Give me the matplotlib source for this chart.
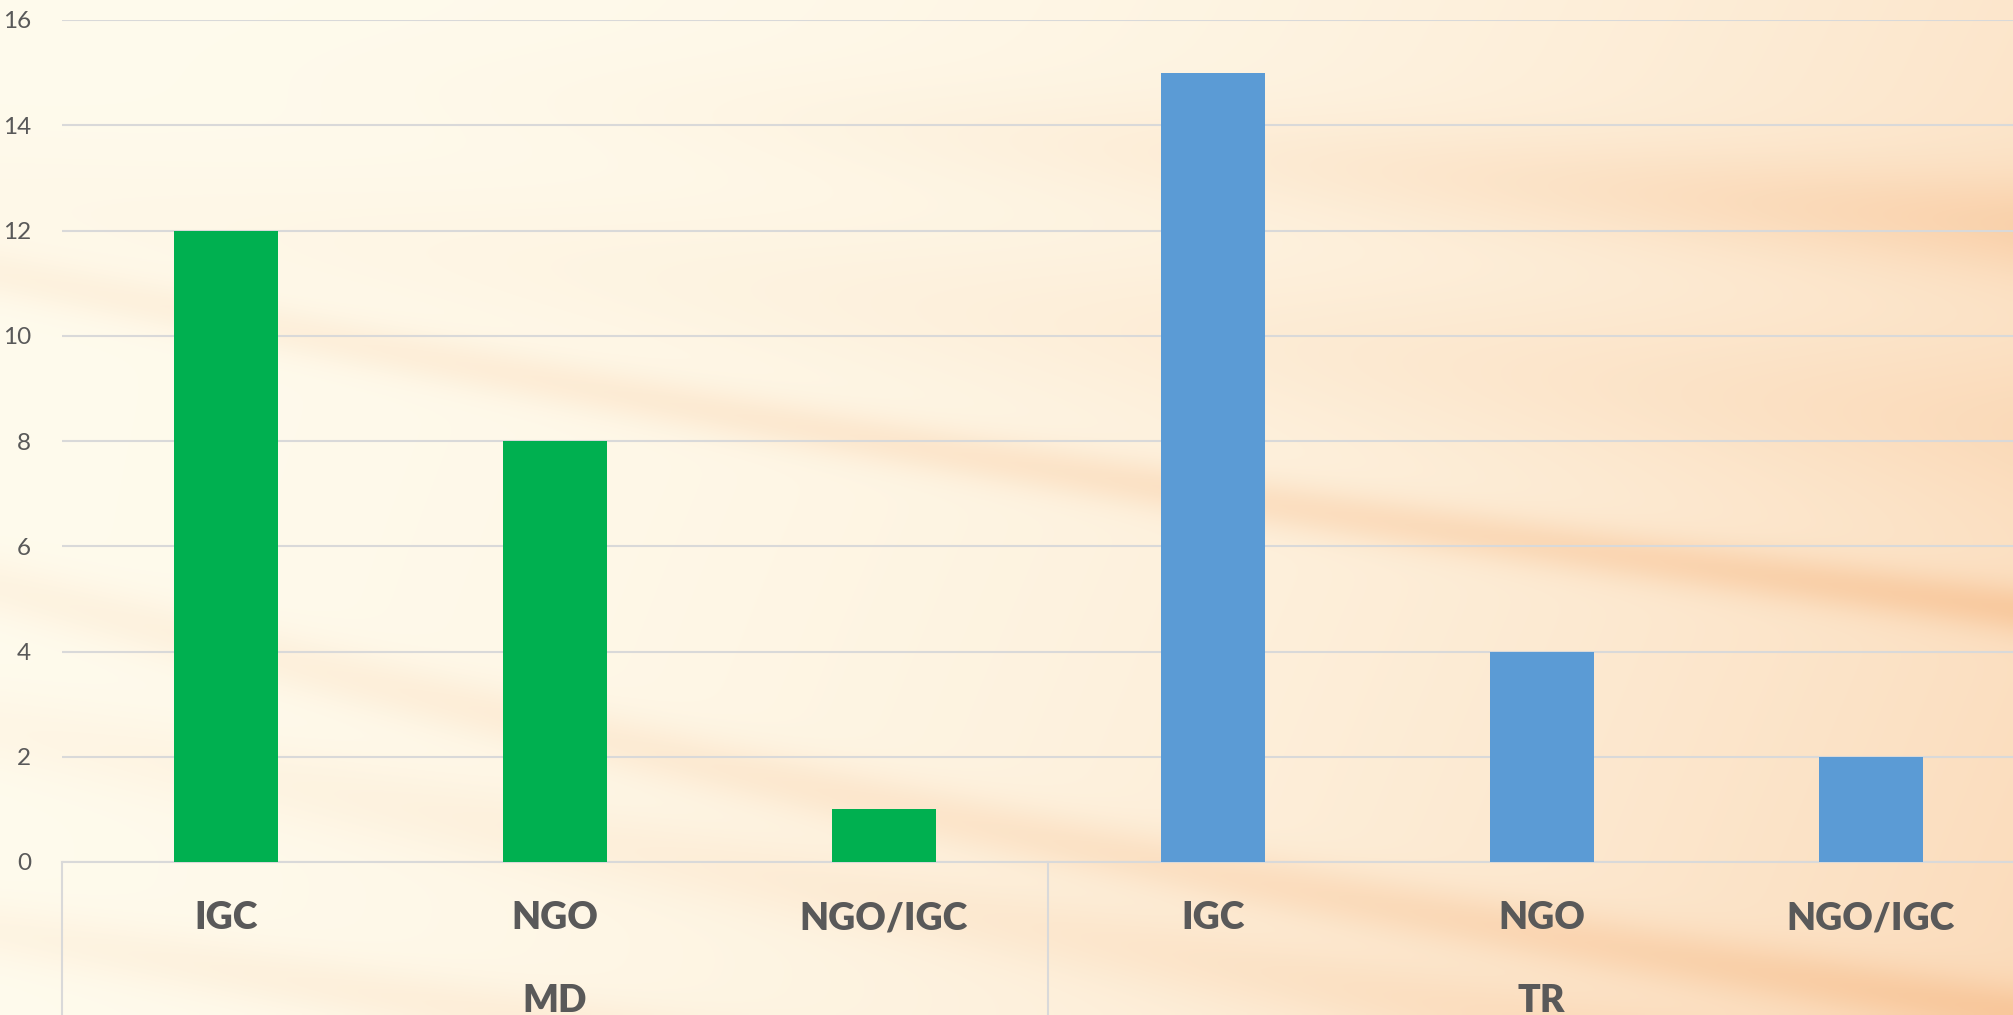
import numpy as np
import matplotlib
matplotlib.use("Agg")
import matplotlib.pyplot as plt
from matplotlib.transforms import blended_transform_factory

# ---- data ----
groups = ["MD", "TR"]
categories = ["IGC", "NGO", "NGO/IGC"]
md_values = [12, 8, 1]
tr_values = [15, 4, 2]
yticks = [0, 2, 4, 6, 8, 10, 12, 14, 16]

plt.rcParams['font.family'] = ['Lato', 'DejaVu Sans']

W, H = 2013, 1015
fig = plt.figure(figsize=(W / 100, H / 100), dpi=100)

# ---- decorative background (deterministic gradient with diagonal streaks) ----
bg = fig.add_axes([0, 0, 1, 1], zorder=0)
bg.set_axis_off()
xs = np.linspace(0, 1, 500)
ys = np.linspace(0, 1, 260)
X, Y = np.meshgrid(xs, ys)  # Y=0 top
inten = 0.03 + 0.28 * X ** 2.2 + 0.15 * Y * X
def band(y0, y1, w, a, curve=0.0):
    line = y0 + (y1 - y0) * X + curve * np.sin(np.pi * X)
    return a * np.exp(-((Y - line) / w) ** 2)
ramp = 0.35 + 0.65 * X
inten += band(0.27, 0.60, 0.025, 0.30, 0.02) * ramp
inten += band(0.20, 0.42, 0.07, 0.10) * ramp
inten += band(0.58, 1.00, 0.03, 0.28, 0.03) * ramp
inten += band(0.72, 1.10, 0.04, 0.18) * ramp
inten += band(0.92, 1.25, 0.03, 0.25) * ramp
inten += band(0.05, 0.22, 0.05, 0.25) * X ** 2
inten = np.clip(inten, 0, 1)
c0 = np.array([255, 253, 240]) / 255.0
c1 = np.array([246, 180, 125]) / 255.0
img = c0[None, None, :] * (1 - inten[..., None]) + c1[None, None, :] * inten[..., None]
bg.imshow(img, aspect='auto', extent=[0, 1, 0, 1], interpolation='bilinear')
bg.set_xlim(0, 1); bg.set_ylim(0, 1)

# ---- main axes ----
left = 61.5 / W
right_px = 2035
bottom = (H - 862) / H
top = (H - 20) / H
ax = fig.add_axes([left, bottom, (right_px - 61.5) / W, top - bottom], zorder=1)
ax.patch.set_alpha(0)

values = md_values + tr_values
colors = ['#00B050'] * len(md_values) + ['#5B9BD5'] * len(tr_values)
xpos = np.arange(len(values))
ax.bar(xpos, values, width=0.316, color=colors, zorder=3)

ax.set_xlim(-0.5, len(values) - 0.5)
ax.set_ylim(0, 16)
ax.set_yticks(yticks)
ax.set_yticklabels([str(t) for t in yticks], fontsize=17.5, color='#595959')
ax.tick_params(axis='y', length=0, pad=22)
ax.grid(axis='y', color='#D9D9D9', linewidth=1.5, zorder=1)
ax.set_xticks([])
for s in ['left', 'right', 'top']:
    ax.spines[s].set_visible(False)
ax.spines['bottom'].set_color('#D9D9D9')
ax.spines['bottom'].set_linewidth(1.5)

trans = blended_transform_factory(ax.transData, ax.transAxes)
labels = categories * len(groups)
for x, lab in zip(xpos, labels):
    ax.text(x, -0.067, lab, transform=trans, ha='center', va='center',
            fontsize=27, fontweight='heavy', color='#595959', clip_on=False)
n = len(categories)
for gi, g in enumerate(groups):
    cx = gi * n + (n - 1) / 2
    ax.text(cx, -0.165, g, transform=trans, ha='center', va='center',
            fontsize=27, fontweight='heavy', color='#595959', clip_on=False)
for b in range(len(groups) + 1):
    ax.plot([b * n - 0.5, b * n - 0.5], [0, -0.25], transform=trans,
            color='#D9D9D9', linewidth=1.5, clip_on=False, zorder=2)

fig.savefig('out.png', dpi=100)
